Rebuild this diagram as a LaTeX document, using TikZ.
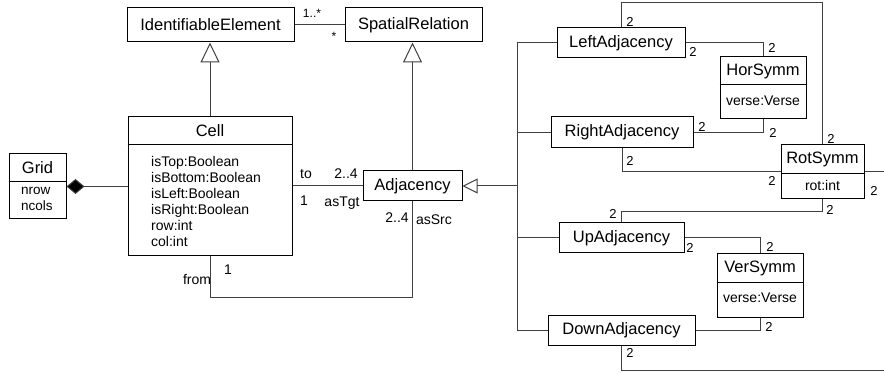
\documentclass[tikz,border=0pt]{standalone}
\usepackage{fontspec}
\setmainfont{Liberation Sans}
\usetikzlibrary{arrows.meta}
\begin{document}
\begin{tikzpicture}[x=1pt,y=-1pt,
  cls/.style={draw=black, line width=1pt, fill=white, inner sep=0pt,
    font=\fontsize{16.5}{19}\selectfont},
  cname/.style={inner sep=0pt, text height=12pt, text depth=3pt, font=\fontsize{16.5}{19}\selectfont},
  attr/.style={inner sep=0pt, anchor=west, text height=10pt, text depth=3pt, font=\fontsize{14}{16}\selectfont},
  mult/.style={inner sep=0pt, text height=10pt, text depth=3pt, font=\fontsize{14}{16}\selectfont},
  two/.style={inner sep=0pt, font=\fontsize{13}{15}\selectfont},
  conn/.style={draw=black!75, line width=1pt},
  gen/.style={conn, -{Triangle[open, length=20pt, width=19pt, fill=white]}},
  gensmall/.style={conn, -{Triangle[open, length=15pt, width=15pt, fill=white]}},
  comp/.style={conn, -{Diamond[length=18pt, width=15pt, fill=black]}}
]
\useasboundingbox (0,0) rectangle (884,374);
\coordinate (edgeR) at (884,172);
\coordinate (edgeB) at (884,370);
\coordinate (busB) at (517,330);

% ---- classes left ----
\node[cls, minimum width=167pt, minimum height=34pt] (ie) at (210.5,25) {IdentifiableElement};
\node[cls, minimum width=137pt, minimum height=34pt] (sr) at (413.5,25) {SpatialRelation};

\node[cls, minimum width=164pt, minimum height=139pt] (cell) at (210,186.5) {};
\node[cname] (cellname) at (210,132) {Cell};
\draw[line width=1pt] (cell.west |- 0,145) -- (cell.east |- 0,145);
\node[attr] (a1) at (151,163) {isTop:Boolean};
\node[attr] (a2) at (151,179) {isBottom:Boolean};
\node[attr] (a3) at (151,195) {isLeft:Boolean};
\node[attr] (a4) at (151,211) {isRight:Boolean};
\node[attr] (a5) at (151,227) {row:int};
\node[attr] (a6) at (151,243) {col:int};

\node[cls, minimum width=57pt, minimum height=65pt] (grid) at (37.5,186.5) {};
\node[cname] (gridname) at (37.5,169) {Grid};
\draw[line width=1pt] (grid.west |- 0,182) -- (grid.east |- 0,182);
\node[attr, font=\fontsize{13.5}{15}\selectfont] (g1) at (21,191) {nrow};
\node[attr, font=\fontsize{13.5}{15}\selectfont] (g2) at (21,207) {ncols};

\node[cls, minimum width=99pt, minimum height=30pt] (adj) at (412.5,186) {Adjacency};

% ---- classes right ----
\node[cls, minimum width=128pt, minimum height=30pt] (la) at (621,43) {LeftAdjacency};
\node[cls, minimum width=142pt, minimum height=31pt] (ra) at (622,132.5) {RightAdjacency};
\node[cls, minimum width=125pt, minimum height=30pt] (ua) at (621.5,238) {UpAdjacency};
\node[cls, minimum width=147pt, minimum height=30pt] (da) at (621.5,330) {DownAdjacency};

\node[cls, minimum width=86pt, minimum height=62pt] (hs) at (763,88) {};
\node[cname] (hsname) at (763,71) {HorSymm};
\draw[line width=1pt] (hs.west |- 0,85) -- (hs.east |- 0,85);
\node[mult] (hsattr) at (763,102) {verse:Verse};

\node[cls, minimum width=83pt, minimum height=54pt] (rs) at (822.5,172) {};
\node[cname] (rsname) at (822.5,159) {RotSymm};
\draw[line width=1pt] (rs.west |- 0,174) -- (rs.east |- 0,174);
\node[mult] (rsattr) at (822.5,187) {rot:int};

\node[cls, minimum width=86pt, minimum height=63pt] (vs) at (760,285.5) {};
\node[cname] (vsname) at (760,268) {VerSymm};
\draw[line width=1pt] (vs.west |- 0,283) -- (vs.east |- 0,283);
\node[mult] (vsattr) at (760,299) {verse:Verse};

% ---- connectors left ----
\draw[conn] (ie.east) -- (sr.west);
\draw[gen] (cell.north) -- (cell.north |- ie.south);
\draw[gen] (adj.north) -- (adj.north |- sr.south);
\draw[comp] (cell.west |- grid.east) -- (grid.east);
\draw[conn] (adj.west -| cell.east) -- (adj.west);
\draw[conn] (adj.south) -- ++(0,96) -| (cell.south);

% ---- connectors right ----
\draw[conn] (la.west) -| (busB) -- (da.west);
\draw[conn] (ra.west) -- (ra.west -| busB);
\draw[conn] (ua.west) -- (ua.west -| busB);
\draw[gensmall] (adj.east -| busB) -- (adj.east);

\draw[conn] (la.north) -- ++(0,-25) -| (rs.north);
\draw[conn] (la.east) -| (hs.north);
\draw[conn] (ra.east) -| (hs.south);
\draw[conn] (ra.south) |- (rs.west);
\draw[conn] (rs.east) -- (edgeR);
\draw[conn] (rs.south) -- ++(0,12) -| (ua.north);
\draw[conn] (ua.east) -| (vs.north);
\draw[conn] (da.east) -| (vs.south);
\draw[conn] (da.south) |- (edgeB);

% ---- labels left ----
\node[mult, font=\fontsize{12}{14}\selectfont] (m1) at (312,14) {1..*};
\node[mult, font=\fontsize{12}{14}\selectfont] (m2) at (334,37) {*};
\node[mult] (m3) at (306,175) {to};
\node[mult] (m4) at (346,175) {2..4};
\node[mult] (m5) at (304,202) {1};
\node[mult] (m6) at (342,203) {asTgt};
\node[mult] (m7) at (397,219) {2..4};
\node[mult] (m8) at (434,221) {asSrc};
\node[mult] (m9) at (228,271) {1};
\node[mult] (m10) at (197,281) {from};

% ---- labels right ----
\node[two] (t1) at (630,22) {2};
\node[two] (t2) at (693,52) {2};
\node[two] (t3) at (772,48) {2};
\node[two] (t4) at (702,127) {2};
\node[two] (t5) at (773,133) {2};
\node[two] (t6) at (630,161) {2};
\node[two] (t7) at (772,181) {2};
\node[two] (t8) at (831,139) {2};
\node[two] (t9) at (874,191) {2};
\node[two] (t10) at (830,210) {2};
\node[two] (t11) at (613,214) {2};
\node[two] (t12) at (690,248) {2};
\node[two] (t13) at (770,247) {2};
\node[two] (t14) at (769,327) {2};
\node[two] (t15) at (630,353) {2};
\end{tikzpicture}
\end{document}
